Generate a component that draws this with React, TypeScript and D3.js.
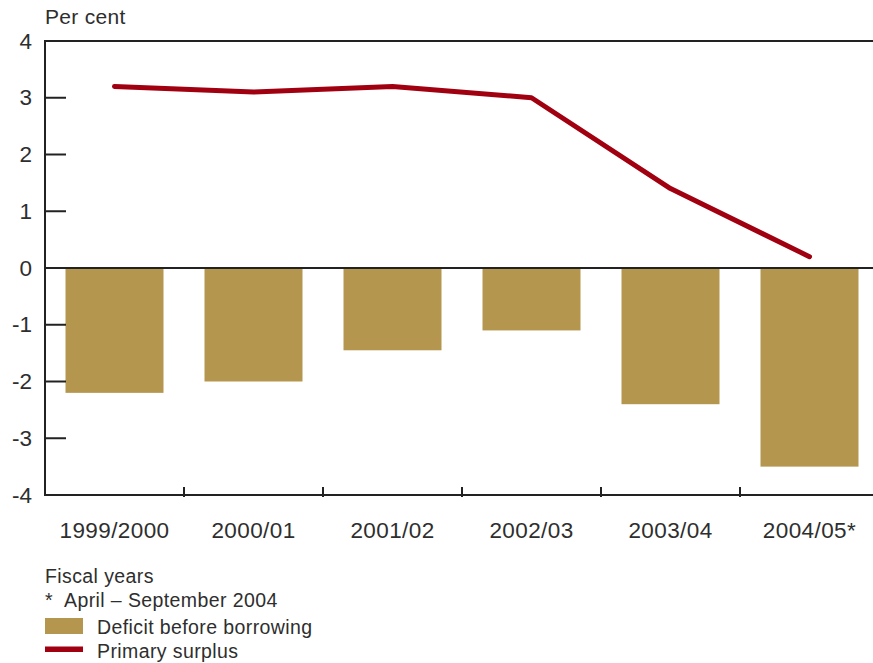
import React from "react";
import * as d3 from "d3";

const categories = ["1999/2000", "2000/01", "2001/02", "2002/03", "2003/04", "2004/05*"];
const deficitValues = [-2.2, -2.0, -1.45, -1.1, -2.4, -3.5];
const primarySurplus = [3.2, 3.1, 3.2, 3.0, 1.4, 0.2];
const yTicks = [4, 3, 2, 1, 0, -1, -2, -3, -4];

const W = 873;
const H = 663;
const left = 45;
const top = 41;
const bottom = 495;
const band = 139;
const font = "'Liberation Sans', Arial, Helvetica, sans-serif";
const textColor = "#2e2e2e";
const gold = "#b5964f";
const red = "#a00010";

export default function App() {
  const x = d3
    .scaleBand<string>()
    .domain(categories)
    .range([left, left + band * categories.length])
    .paddingInner(0.295)
    .paddingOuter(0.1475);
  const y = d3.scaleLinear().domain([-4, 4]).range([bottom, top]);
  const step = x.step();
  const centers = categories.map((c) => (x(c) as number) + x.bandwidth() / 2);
  const line = d3
    .line<number>()
    .x((_, i) => centers[i])
    .y((d) => y(d));

  return (
    <svg
      width={W}
      height={H}
      style={{ position: "absolute", left: 0, top: 0 }}
      fontFamily={font}
    >
      <rect width={W} height={H} fill="#fff" />
      <text x={left} y={24} fontSize={21} letterSpacing={0.3} fill={textColor}>
        Per cent
      </text>
      {categories.map((c, i) => (
        <rect
          key={c}
          x={x(c)}
          width={x.bandwidth()}
          y={y(Math.max(0, deficitValues[i]))}
          height={Math.abs(y(deficitValues[i]) - y(0))}
          fill={gold}
        />
      ))}
      <line x1={left} x2={W} y1={y(4)} y2={y(4)} stroke="#222" strokeWidth={2} />
      <line x1={left} x2={W} y1={y(0)} y2={y(0)} stroke="#222" strokeWidth={2} />
      <line x1={left} x2={W} y1={y(-4)} y2={y(-4)} stroke="#222" strokeWidth={2} />
      <line x1={left} x2={left} y1={y(4) - 1} y2={y(-4) + 1} stroke="#222" strokeWidth={2} />
      {yTicks.map((t) => (
        <g key={t}>
          {t !== 4 && t !== -4 && t !== 0 && (
            <line x1={left} x2={left + 21} y1={y(t)} y2={y(t)} stroke="#222" strokeWidth={2} />
          )}
          <text
            x={32}
            y={y(t) + 7.5}
            textAnchor="end"
            fontSize={22.5}
            fill={textColor}
          >
            {t}
          </text>
        </g>
      ))}
      {categories.slice(1).map((c) => (
        <line
          key={c}
          x1={(x(c) as number) - (step - x.bandwidth()) / 2}
          x2={(x(c) as number) - (step - x.bandwidth()) / 2}
          y1={bottom - 8}
          y2={bottom + 2}
          stroke="#222"
          strokeWidth={2}
        />
      ))}
      {categories.map((c, i) => (
        <text
          key={c}
          x={centers[i]}
          y={538}
          textAnchor="middle"
          fontSize={22.5}
          letterSpacing={0.4}
          fill={textColor}
        >
          {c}
        </text>
      ))}
      <path
        d={line(primarySurplus) || ""}
        fill="none"
        stroke={red}
        strokeWidth={5}
        strokeLinecap="round"
        strokeLinejoin="round"
      />
      <text x={left} y={583} fontSize={19.5} letterSpacing={0.4} fill={textColor}>
        Fiscal years
      </text>
      <text x={left} y={607} fontSize={19.5} letterSpacing={0.4} fill={textColor}>
        *
      </text>
      <text x={64} y={607} fontSize={19.5} letterSpacing={0.4} fill={textColor}>
        April – September 2004
      </text>
      <rect x={left} y={618} width={38} height={16} fill={gold} />
      <text x={97} y={634} fontSize={19.5} letterSpacing={0.4} fill={textColor}>
        Deficit before borrowing
      </text>
      <rect x={left} y={646.5} width={38} height={5.5} fill={red} />
      <text x={97} y={658} fontSize={19.5} letterSpacing={0.4} fill={textColor}>
        Primary surplus
      </text>
    </svg>
  );
}
